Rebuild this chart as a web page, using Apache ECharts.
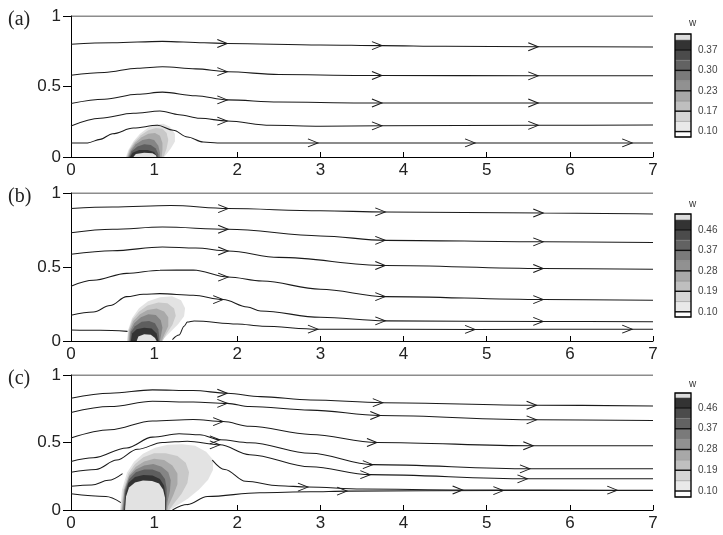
<!DOCTYPE html>
<html><head><meta charset="utf-8">
<script src="https://cdn.jsdelivr.net/npm/echarts@6/dist/echarts.min.js"></script>
<style>html,body{margin:0;padding:0;background:#fff}#c{width:723px;height:535px}</style>
</head><body><div id="c"></div>
<script>
// ---------- data ----------
const xTickValues = [0,1,2,3,4,5,6,7];
const yTickText = {0:'0', 0.5:'0.5', 1:'1'};
const panelLabels = ['(a)','(b)','(c)'];
const colorbarTitle = 'w';

// streamlines: [x, y, arrow?]
const streamsA = [
  [[0,1],[7,1]],
  [[0,0.80],[0.5,0.81],[1.1,0.82],[1.6,0.81],[1.88,0.805,1],[3.0,0.795],[3.74,0.79,1],[4.5,0.785],[5.62,0.782,1],[7,0.78]],
  [[0,0.58],[0.4,0.6],[0.8,0.63],[1.1,0.64],[1.5,0.625],[1.88,0.605,1],[2.5,0.585],[3.5,0.578],[3.74,0.578,1],[5.62,0.576,1],[7,0.576]],
  [[0,0.38],[0.4,0.41],[0.8,0.445],[1.1,0.46],[1.5,0.435],[1.88,0.405,1],[2.5,0.39],[3.5,0.383],[3.74,0.383,1],[5.62,0.383,1],[7,0.383]],
  [[0,0.22],[0.35,0.275],[0.75,0.31],[1.07,0.326],[1.3,0.30],[1.55,0.275],[1.88,0.255,1],[2.4,0.225],[3,0.218],[3.74,0.221,1],[5.62,0.225,1],[7,0.227]],
  [[0,0.10],[0.2,0.10],[0.35,0.125],[0.5,0.165],[0.75,0.205],[1.04,0.225],[1.23,0.19],[1.4,0.142],[1.59,0.106],[1.76,0.099],[2.97,0.1,1],[4.86,0.1,1],[6.75,0.1,1],[7,0.1]]
];
const streamsB = [
  [[0,1],[7,1]],
  [[0,0.895],[0.5,0.905],[1.2,0.915],[1.89,0.895,1],[3,0.88],[3.78,0.872,1],[5.68,0.865,1],[7,0.858]],
  [[0,0.732],[0.5,0.755],[1.1,0.77],[1.89,0.755,1],[3,0.71],[3.78,0.68,1],[5.68,0.67,1],[7,0.665]],
  [[0,0.586],[0.5,0.61],[1.1,0.635],[1.5,0.628],[1.89,0.608,1],[2.5,0.565],[3.78,0.51,1],[5.68,0.49,1],[7,0.485]],
  [[0,0.37],[0.27,0.41],[0.67,0.457],[1.07,0.478],[1.47,0.48],[1.89,0.432,1],[2.3,0.405],[3,0.35],[3.78,0.30,1],[5.68,0.28,1],[7,0.275]],
  [[0,0.174],[0.27,0.196],[0.47,0.24],[0.67,0.30],[0.87,0.316],[1.07,0.32],[1.47,0.309],[1.83,0.28,1],[2.12,0.23],[2.28,0.203],[3,0.16],[3.78,0.136,1],[5.68,0.132,1],[7,0.13]],
  [[0,0.075],[0.35,0.072],[0.68,0.065]],
  [[1.22,0.01],[1.3,0.04],[1.36,0.1],[1.40,0.128],[1.48,0.135],[2.0,0.115],[2.3,0.10],[2.97,0.08,1],[4.86,0.078,1],[6.75,0.08,1],[7,0.08]]
];
const streamsC = [
  [[0,1],[7,1]],
  [[0,0.828],[0.47,0.865],[0.98,0.89],[1.47,0.885],[1.88,0.865,1],[2.28,0.84],[2.88,0.815],[3.75,0.795,1],[5.6,0.776,1],[7,0.771]],
  [[0,0.722],[0.47,0.766],[0.98,0.805],[1.47,0.80],[1.88,0.79,1],[2.15,0.766],[2.88,0.74],[3.72,0.70,1],[5.6,0.668,1],[7,0.663]],
  [[0,0.533],[0.47,0.594],[0.98,0.66],[1.47,0.67],[1.83,0.655,1],[2.15,0.62],[2.88,0.56],[3.68,0.5,1],[5.56,0.476,1],[7,0.476]],
  [[0,0.36],[0.27,0.387],[0.67,0.46],[0.98,0.54],[1.3,0.565],[1.55,0.557],[1.79,0.52,1],[2.15,0.498],[2.88,0.42],[3.63,0.336,1],[5.52,0.305,1],[7,0.305]],
  [[0,0.279],[0.3,0.3],[0.55,0.37],[0.8,0.45],[1.1,0.5],[1.4,0.51],[1.79,0.483,1],[2.15,0.41],[2.88,0.32],[3.6,0.262,1],[5.49,0.231,1],[7,0.231]],
  [[0,0.176],[0.25,0.185],[0.45,0.22],[0.62,0.27]],
  [[1.7,0.37],[1.85,0.3],[2.1,0.213],[2.5,0.18],[2.85,0.17,1],[3.5,0.155],[4.71,0.148,1],[6.57,0.147,1],[7,0.147]],
  [[0,0.12],[0.42,0.1],[0.6,0.055]],
  [[1.22,0],[1.4,0.04],[1.64,0.1],[2.27,0.128],[2.88,0.135],[3.32,0.14,1],[5.2,0.144,1],[7,0.144]]
];

// contour polygons (outer -> inner), last = light core
const contourA = [
  [[0.66,0],[0.69,0.05],[0.75,0.11],[0.83,0.165],[0.93,0.21],[1.02,0.23],[1.11,0.235],[1.19,0.215],[1.25,0.165],[1.25,0.11],[1.2,0.06],[1.14,0.015],[1.12,0]],
  [[0.67,0],[0.70,0.05],[0.76,0.105],[0.84,0.155],[0.93,0.19],[1.02,0.205],[1.10,0.2],[1.15,0.17],[1.17,0.12],[1.15,0.06],[1.12,0.01],[1.11,0]],
  [[0.68,0],[0.71,0.05],[0.77,0.1],[0.85,0.14],[0.93,0.165],[1.01,0.17],[1.07,0.15],[1.10,0.1],[1.10,0.05],[1.09,0]],
  [[0.69,0],[0.72,0.045],[0.78,0.09],[0.86,0.12],[0.94,0.13],[1.0,0.12],[1.05,0.08],[1.07,0.03],[1.07,0]],
  [[0.70,0],[0.73,0.04],[0.80,0.075],[0.88,0.09],[0.96,0.085],[1.02,0.06],[1.05,0.02],[1.05,0]],
  [[0.71,0],[0.74,0.03],[0.82,0.05],[0.92,0.05],[1.0,0.035],[1.04,0]],
  [[0.75,0],[0.78,0.022],[0.88,0.03],[0.98,0.027],[1.02,0.012],[1.03,0]]
];
const contourB = [
  [[0.674,0],[0.686,0.072],[0.734,0.153],[0.818,0.221],[0.927,0.268],[1.071,0.295],[1.215,0.302],[1.324,0.275],[1.372,0.221],[1.36,0.167],[1.288,0.113],[1.191,0.059],[1.119,0.018],[1.095,0]],
  [[0.68,0],[0.69,0.07],[0.74,0.145],[0.82,0.2],[0.92,0.24],[1.05,0.26],[1.16,0.255],[1.24,0.22],[1.26,0.17],[1.22,0.11],[1.15,0.05],[1.1,0]],
  [[0.69,0],[0.70,0.07],[0.75,0.135],[0.83,0.18],[0.92,0.21],[1.03,0.22],[1.12,0.2],[1.17,0.16],[1.17,0.1],[1.12,0.04],[1.09,0]],
  [[0.70,0],[0.71,0.065],[0.76,0.12],[0.84,0.16],[0.93,0.18],[1.02,0.175],[1.08,0.14],[1.1,0.09],[1.08,0.03],[1.07,0]],
  [[0.71,0],[0.72,0.06],[0.77,0.1],[0.85,0.13],[0.94,0.135],[1.01,0.12],[1.05,0.08],[1.06,0.03],[1.06,0]],
  [[0.72,0],[0.735,0.05],[0.79,0.08],[0.88,0.09],[0.97,0.085],[1.03,0.05],[1.05,0]],
  [[0.79,0],[0.81,0.03],[0.88,0.045],[0.96,0.042],[1.01,0.02],[1.03,0]]
];
const contourC = [
  [[0.59,0],[0.614,0.151],[0.674,0.277],[0.758,0.358],[0.866,0.417],[1.011,0.461],[1.167,0.483],[1.336,0.487],[1.492,0.476],[1.625,0.432],[1.709,0.373],[1.709,0.299],[1.649,0.225],[1.54,0.151],[1.408,0.085],[1.276,0.033],[1.191,0]],
  [[0.6,0],[0.63,0.15],[0.69,0.27],[0.77,0.34],[0.87,0.39],[1.0,0.42],[1.14,0.42],[1.28,0.4],[1.38,0.35],[1.42,0.28],[1.40,0.2],[1.33,0.12],[1.24,0.05],[1.18,0]],
  [[0.61,0],[0.64,0.15],[0.70,0.26],[0.78,0.32],[0.88,0.36],[1.0,0.38],[1.12,0.37],[1.22,0.33],[1.28,0.27],[1.28,0.19],[1.23,0.11],[1.17,0.03],[1.16,0]],
  [[0.62,0],[0.645,0.15],[0.70,0.25],[0.78,0.3],[0.88,0.33],[0.99,0.34],[1.09,0.32],[1.17,0.28],[1.2,0.22],[1.19,0.14],[1.16,0.06],[1.15,0]],
  [[0.63,0],[0.65,0.14],[0.7,0.23],[0.78,0.28],[0.88,0.3],[0.98,0.3],[1.07,0.28],[1.13,0.23],[1.15,0.16],[1.15,0.08],[1.14,0]],
  [[0.64,0],[0.655,0.12],[0.69,0.2],[0.77,0.245],[0.87,0.26],[0.98,0.255],[1.07,0.23],[1.12,0.18],[1.14,0.1],[1.14,0]],
  [[0.65,0],[0.662,0.1],[0.698,0.166],[0.77,0.203],[0.866,0.218],[0.975,0.214],[1.059,0.196],[1.107,0.151],[1.131,0.092],[1.131,0]]
];

// colorbar level boundaries and tick labels
const cbLevelsA = [0.082,0.10,0.13375,0.1675,0.20125,0.235,0.26875,0.3025,0.33625,0.37,0.40375,0.423];
const cbTickValsA = [0.10,0.1675,0.235,0.3025,0.37];
const cbTickTextA = ['0.10','0.17','0.23','0.30','0.37'];
const cbLevelsB = [0.077,0.10,0.145,0.19,0.235,0.28,0.325,0.37,0.415,0.46,0.505,0.53];
const cbTickValsB = [0.10,0.19,0.28,0.37,0.46];
const cbTickTextB = ['0.10','0.19','0.28','0.37','0.46'];
const cbLevelsC = [0.074,0.10,0.145,0.19,0.235,0.28,0.325,0.37,0.415,0.46,0.505,0.525];
const cbTickValsC = [0.10,0.19,0.28,0.37,0.46];
const cbTickTextC = ['0.10','0.19','0.28','0.37','0.46'];

// ---------- styles ----------
const cbColors = ['#ffffff','#e9e9e9','#d5d5d5','#bfbfbf','#a8a8a8','#919191','#7a7a7a','#626262','#4b4b4b','#333333','#dddddd'];
const contourColors = ['#e3e3e3','#c8c8c8','#a9a9a9','#858585','#5e5e5e','#333333','#e2e2e2'];
const mainGrids = [
  {left:71, top:16, width:582, height:141},
  {left:71, top:193, width:582, height:148},
  {left:71, top:375, width:582, height:135}
];
const cbGrids = [
  {left:675, top:34, width:16, height:103},
  {left:675, top:214, width:16, height:103},
  {left:675, top:393, width:16, height:104}
];
const labelTops = [5, 182, 364];
const wTops = [13, 194, 374];
const arrowPath = 'path://M0,0L10,4L0,8';

const streams = [streamsA, streamsB, streamsC];
const contours = [contourA, contourB, contourC];
const cbLevels = [cbLevelsA, cbLevelsB, cbLevelsC];
const cbTickVals = [cbTickValsA, cbTickValsB, cbTickValsC];
const cbTickText = [cbTickTextA, cbTickTextB, cbTickTextC];

const grid = [], xAxis = [], yAxis = [], series = [], title = [];
const FONT = 'Liberation Sans';

for (let i = 0; i < 3; i++) {
  const mi = grid.length;
  grid.push(Object.assign({containLabel:false}, mainGrids[i]));
  xAxis.push({type:'value', gridIndex:mi, min:0, max:7, interval:1,
    axisLine:{lineStyle:{color:'#000', width:1}},
    axisTick:{inside:true, length:5, lineStyle:{color:'#000'}},
    axisLabel:{fontSize:17, color:'#222', margin:5, fontFamily:FONT},
    splitLine:{show:false}});
  yAxis.push({type:'value', gridIndex:mi, min:0, max:1, interval:0.5,
    axisLine:{show:true, lineStyle:{color:'#000', width:1}},
    axisTick:{show:true, length:8, lineStyle:{color:'#000'}},
    axisLabel:{fontSize:17, color:'#222', margin:10, fontFamily:FONT,
      formatter: v => yTickText[v] !== undefined ? yTickText[v] : ''},
    splitLine:{show:false}});
  title.push({text:panelLabels[i], left:3, top:labelTops[i],
    textStyle:{fontFamily:'Liberation Serif', fontSize:20, fontWeight:'normal', color:'#222'}});
  title.push({text:colorbarTitle, left:684, top:wTops[i],
    textStyle:{fontFamily:FONT, fontSize:10, fontWeight:'normal', color:'#333'}});

  // contour polygons
  const polys = contours[i];
  series.push({type:'custom', xAxisIndex:mi, yAxisIndex:mi, z:1, silent:true,
    data: polys.map((p, k) => [p[0][0], p[0][1], k]),
    renderItem: (params, api) => {
      const poly = polys[params.dataIndex];
      return {type:'polygon', shape:{points: poly.map(p => api.coord(p))},
        style:{fill: contourColors[params.dataIndex], stroke:null}};
    }});

  // streamlines
  streams[i].forEach(line => {
    series.push({type:'line', xAxisIndex:mi, yAxisIndex:mi, z:3, silent:true,
      smooth:0.35, smoothMonotone:'x', showSymbol:true, symbol:'none',
      lineStyle:{color:'#1a1a1a', width:1.05},
      itemStyle:{color:'rgba(0,0,0,0)', borderColor:'#1a1a1a', borderWidth:1},
      data: line.map(p => p[2] ? {value:[p[0],p[1]], symbol:arrowPath, symbolSize:[10,8], symbolOffset:['-50%',0]}
                                 : {value:[p[0],p[1]], symbol:'none'})
    });
  });

  // colorbar (own grid + scale; axis hidden, labels drawn at scale positions)
  const gi = grid.length;
  const lv = cbLevels[i];
  grid.push(Object.assign({}, cbGrids[i]));
  xAxis.push({type:'value', gridIndex:gi, min:0, max:1, show:false});
  yAxis.push({type:'value', gridIndex:gi, min:lv[0], max:lv[lv.length-1], show:false});
  const tv = cbTickVals[i], tt = cbTickText[i];
  const segs = [];
  for (let k = 0; k < lv.length - 1; k++) segs.push([lv[k], lv[k+1], k]);
  series.push({type:'custom', xAxisIndex:gi, yAxisIndex:gi, z:1, silent:true,
    data: segs,
    renderItem: (params, api) => {
      const lo = api.value(0), hi = api.value(1);
      const p0 = api.coord([0, lo]), p1 = api.coord([1, hi]);
      const ti = tv.findIndex(t => Math.abs(t - lo) < 1e-6);
      const children = [{type:'rect', shape:{x:p0[0], y:p1[1], width:p1[0]-p0[0], height:p0[1]-p1[1]},
        style:{fill: cbColors[params.dataIndex], stroke:'#888', lineWidth:0.4}}];
      if (ti >= 0) {
        children.push({type:'rect', z2:5, shape:{x:p0[0], y:p0[1]-0.7, width:p1[0]-p0[0], height:1.4},
          style:{fill:'#111', stroke:null}});
        children.push({type:'text', z2:6, style:{text:tt[ti], x:p1[0]+7, y:p0[1],
          verticalAlign:'middle', align:'left', fill:'#444', fontSize:10, fontFamily:FONT}});
      }
      if (params.dataIndex === 0) {
        const b0 = api.coord([0, lv[0]]), b1 = api.coord([1, lv[lv.length-1]]);
        children.push({type:'rect', z2:10, shape:{x:b0[0], y:b1[1], width:b1[0]-b0[0], height:b0[1]-b1[1]},
          style:{fill:null, stroke:'#000', lineWidth:1.3}});
      }
      return {type:'group', children};
    }});
}

const chart = echarts.init(document.getElementById('c'), null, {renderer:'canvas'});
chart.setOption({animation:false, backgroundColor:'#fff', title, grid, xAxis, yAxis, series});
</script></body></html>
